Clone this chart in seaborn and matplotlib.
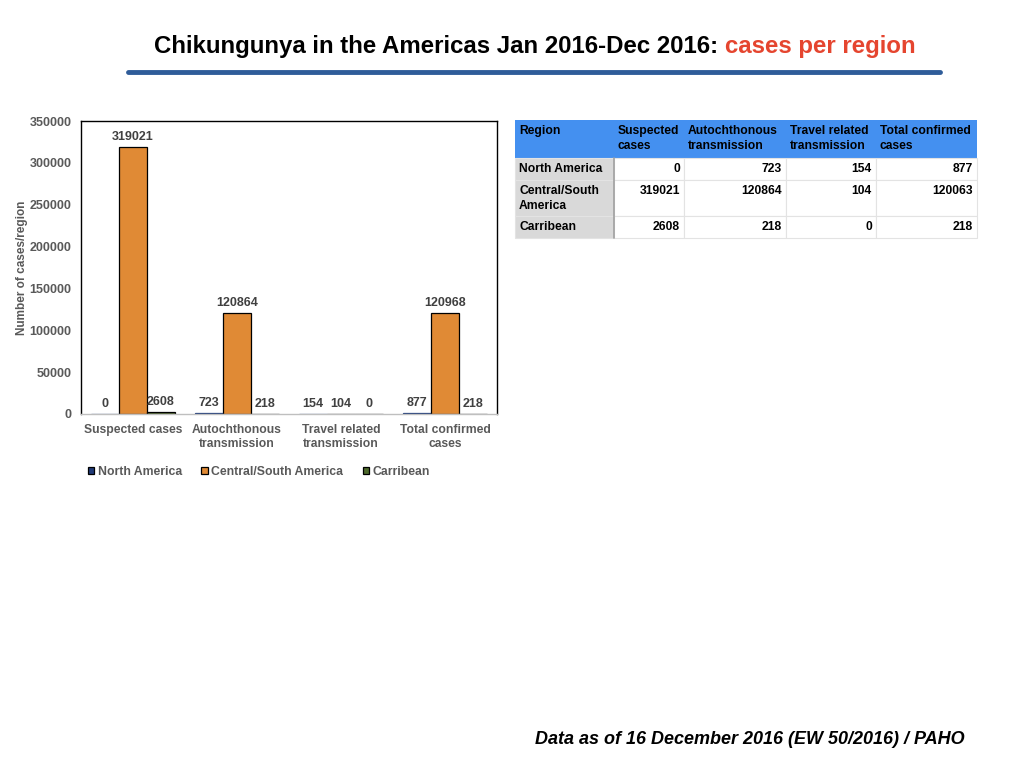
import matplotlib
matplotlib.use("Agg")
import matplotlib.pyplot as plt
from matplotlib.patches import Rectangle
import seaborn as sns
import pandas as pd

# ---------------- data ----------------
categories = ["Suspected cases", "Autochthonous\ntransmission",
              "Travel related\ntransmission", "Total confirmed\ncases"]
regions = ["North America", "Central/South America", "Carribean"]
north_america = [0, 723, 154, 877]
central_south_america = [319021, 120864, 104, 120968]
carribean = [2608, 218, 0, 218]

table_header = ["Region", "Suspected\ncases", "Autochthonous\ntransmission",
                "Travel related\ntransmission", "Total confirmed\ncases"]
table_regions = ["North America", "Central/South\nAmerica", "Carribean"]
table_values = [[0, 723, 154, 877],
                [319021, 120864, 104, 120063],
                [2608, 218, 0, 218]]

yticks = [0, 50000, 100000, 150000, 200000, 250000, 300000, 350000]

# ---------------- figure ----------------
sns.set_theme(style="white")
plt.rcParams["font.family"] = ["Liberation Sans", "DejaVu Sans"]

fig = plt.figure(figsize=(10.24, 7.68), dpi=100)
fig.patch.set_facecolor("white")

# title
title_y = 1 - 46 / 768
t1 = fig.text(0.15, title_y, "Chikungunya in the Americas Jan 2016-Dec 2016: ",
              fontsize=17.3, fontweight="bold", color="black", va="center", ha="left")
fig.canvas.draw()
bb = t1.get_window_extent()
t2 = fig.text(bb.x1 / fig.bbox.width, title_y, "cases per region",
              fontsize=17.3, fontweight="bold", color="#E5452F", va="center", ha="left")
fig.canvas.draw()
bb2 = t2.get_window_extent()
total_w = bb2.x1 - bb.x0
shift = (535 - total_w / 2) - bb.x0
t1.set_x((bb.x0 + shift) / fig.bbox.width)
t2.set_x((bb2.x0 + shift) / fig.bbox.width)

# blue rule
fig.add_artist(plt.Line2D([128 / 1024, 940 / 1024], [1 - 72 / 768] * 2,
                          color="#2F5C99", linewidth=3.5, transform=fig.transFigure))

# footer
fig.text(965 / 1024, 1 - 740 / 768, "Data as of 16 December 2016 (EW 50/2016) / PAHO",
         fontsize=13, fontweight="bold", fontstyle="italic", ha="right", va="center",
         color="black")

# ---------------- bar chart ----------------
df = pd.DataFrame({
    "category": categories * 3,
    "region": [regions[0]] * 4 + [regions[1]] * 4 + [regions[2]] * 4,
    "value": north_america + central_south_america + carribean,
})

ax = fig.add_axes([81 / 1024, 1 - 414 / 768, (497 - 81) / 1024, (414 - 121) / 768])
palette = {"North America": "#1F3A78", "Central/South America": "#E08A35",
           "Carribean": "#4E6A2C"}
sns.barplot(data=df, x="category", y="value", hue="region", order=categories,
            hue_order=regions, palette=palette, edgecolor="black", linewidth=0.9,
            saturation=1, width=0.8, ax=ax)

# North America bars: no dark outline, just fill
for patch in ax.containers[0]:
    patch.set_edgecolor("#1F3A78")

for cont in ax.containers:
    ax.bar_label(cont, fmt="%d", padding=3, fontsize=9, fontweight="bold",
                 color="#404040")

ax.set_ylim(0, 350000)
ax.set_yticks(yticks)
ax.set_yticklabels([str(v) for v in yticks], fontsize=9, fontweight="bold", color="#595959")
ax.set_xticks(range(len(categories)))
ax.set_xticklabels(categories, fontsize=8.7, fontweight="bold", color="#595959")
ax.tick_params(axis="both", length=0, pad=7)
ax.set_xlabel("")
ax.set_ylabel("Number of cases/region", fontsize=8.5, fontweight="bold", color="#595959",
              labelpad=1)
for s in ["left", "top", "right"]:
    ax.spines[s].set_visible(True)
    ax.spines[s].set_color("black")
    ax.spines[s].set_linewidth(1.0)
ax.spines["bottom"].set_color("#BFBFBF")
ax.spines["bottom"].set_linewidth(1.0)

leg = ax.legend(loc="upper left", bbox_to_anchor=(-0.01, -0.14), ncol=3, frameon=False,
                fontsize=8.8, handlelength=0.5, handleheight=0.5, handletextpad=0.3,
                columnspacing=1.6)
for txt in leg.get_texts():
    txt.set_color("#595959")
    txt.set_fontweight("bold")

# ---------------- table ----------------
col_edges = [515, 614, 684, 786, 876, 977]
row_edges = [120, 158, 180, 216, 238]
W, H = 1024.0, 768.0

def fx(px):
    return px / W

def fy(py):
    return 1 - py / H

# header
fig.add_artist(Rectangle((fx(col_edges[0]), fy(row_edges[1])),
                         fx(col_edges[-1]) - fx(col_edges[0]),
                         fy(row_edges[0]) - fy(row_edges[1]),
                         facecolor="#4490F0", edgecolor="none",
                         transform=fig.transFigure))
for j in range(5):
    x0 = col_edges[j]
    fig.text(fx(x0 + 4), fy(row_edges[0] + 5), table_header[j], fontsize=8.7,
             fontweight="bold", color="black", ha="left", va="top", linespacing=1.3)

for i in range(3):
    y0, y1 = row_edges[i + 1], row_edges[i + 2]
    for j in range(5):
        x0, x1 = col_edges[j], col_edges[j + 1]
        fc = "#D9D9D9" if j == 0 else "white"
        fig.add_artist(Rectangle((fx(x0), fy(y1)), fx(x1) - fx(x0), fy(y0) - fy(y1),
                                 facecolor=fc, edgecolor="#E3E3E3", linewidth=0.8,
                                 transform=fig.transFigure))
        if j == 0:
            fig.text(fx(x0 + 4), fy(y0 + 5), table_regions[i], fontsize=8.7,
                     fontweight="bold", color="black", ha="left", va="top",
                     linespacing=1.3)
        else:
            fig.text(fx(x1 - 4), fy(y0 + 5), str(table_values[i][j - 1]), fontsize=8.7,
                     fontweight="bold", color="black", ha="right", va="top")
# separator line after first column
fig.add_artist(plt.Line2D([fx(614), fx(614)], [fy(158), fy(238)], color="#A0A0A0",
                          linewidth=1.2, transform=fig.transFigure))

fig.savefig("out.png", dpi=100)
